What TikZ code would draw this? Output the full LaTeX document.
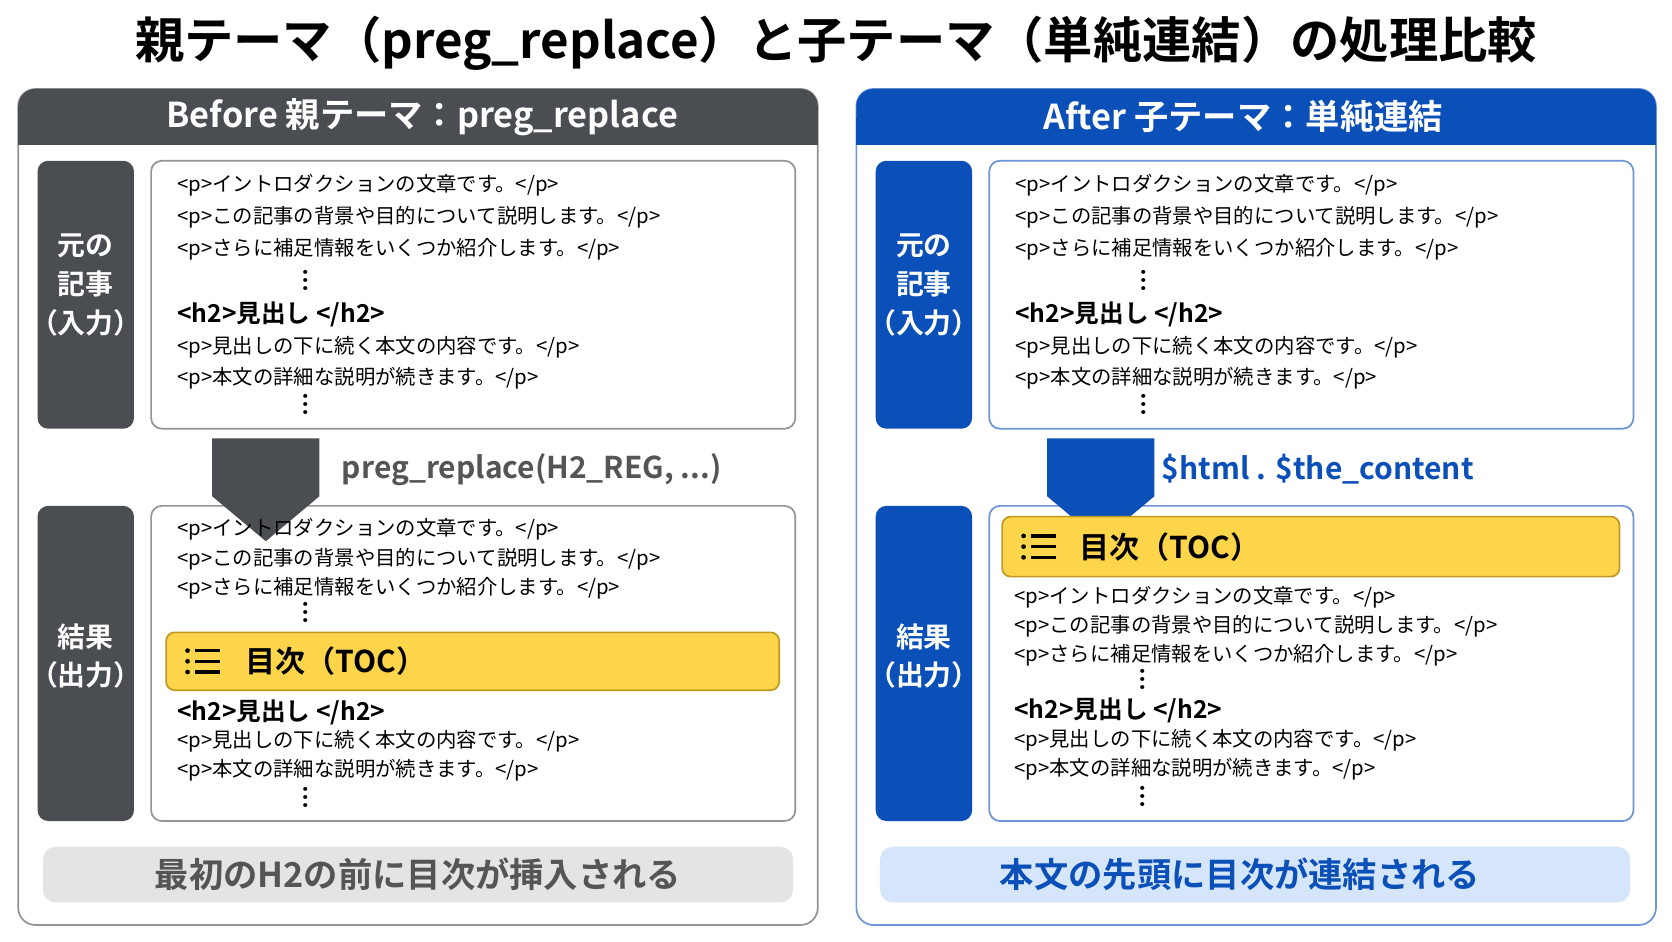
\documentclass[tikz,border=0pt]{standalone}
\usepackage{fontspec}
\setmainfont{Noto Sans CJK JP}[BoldFont={Noto Sans CJK JP Bold}]
\usetikzlibrary{shapes.arrows}
\definecolor{dg}{HTML}{4A4D52}
\definecolor{bl}{HTML}{0B4FB8}
\definecolor{yl}{HTML}{FCD54A}
\definecolor{ylb}{HTML}{C09A20}
\definecolor{lg}{HTML}{E4E4E4}
\definecolor{lb}{HTML}{D6E6FA}
\definecolor{gt}{HTML}{555555}
\begin{document}
\begin{tikzpicture}[x=0.5pt,y=-0.5pt,
 ln/.style={anchor=west,inner sep=0,font=\fontsize{9.5}{11}\selectfont},
 hh/.style={anchor=west,inner sep=0,font=\fontsize{11.5}{13}\bfseries\selectfont},
 dt/.style={inner sep=0,font=\fontsize{10}{10}\bfseries\selectfont},
 lab/.style={align=center,text=white,font=\fontsize{13}{18}\bfseries\selectfont},
 box/.style={draw=gray!70,line width=0.8pt,rounded corners=5pt,fill=white},
 toc/.style={draw=ylb,line width=0.8pt,rounded corners=4pt,fill=yl}]
\useasboundingbox (0,0) rectangle (1560,878);
\fill[white] (0,0) rectangle (1560,878);
\node[font=\fontsize{23}{26}\bfseries\selectfont] (title) at (780,40) {親テーマ（preg\_replace）と子テーマ（単純連結）の処理比較};
\newcommand{\vd}[2]{\node[dt] at (#1,#2) {\rotatebox{90}{…}};}
\newcommand{\tocicon}[2]{%
 \foreach \dy in {-10,0,10}{\fill (#1,#2+\dy) circle (2.2);
 \fill (#1+7,#2+\dy-1.6) rectangle (#1+30,#2+\dy+1.6);}}
% panels
\foreach \ox/\cl in {0/dg,782/bl}{
 \draw[\cl!60,line width=0.8pt,rounded corners=8pt] (17+\ox,83) rectangle (763+\ox,863);
 \fill[\cl,rounded corners=8pt] (17+\ox,83) rectangle (763+\ox,135);
 \fill[\cl] (17+\ox,110) rectangle (763+\ox,135);
 \fill[\cl,rounded corners=5pt] (35+\ox,150) rectangle (125+\ox,400);
 \fill[\cl,rounded corners=5pt] (35+\ox,472) rectangle (125+\ox,766);
 \draw[box,draw=\cl!60] (141+\ox,150) rectangle (742+\ox,400);
 \draw[box,draw=\cl!60] (141+\ox,472) rectangle (742+\ox,766);
 \node[lab] at (80+\ox,266) {元の\\記事\\（入力）};
 \node[lab] at (80+\ox,612) {結果\\（出力）};
 \node[ln] at (165+\ox,173) {<p>イントロダクションの文章です。</p>};
 \node[ln] at (165+\ox,203) {<p>この記事の背景や目的について説明します。</p>};
 \node[ln] at (165+\ox,233) {<p>さらに補足情報をいくつか紹介します。</p>};
 \vd{285+\ox}{262}
 \node[hh] at (165+\ox,293) {<h2>見出し </h2>};
 \node[ln] at (165+\ox,324) {<p>見出しの下に続く本文の内容です。</p>};
 \node[ln] at (165+\ox,353) {<p>本文の詳細な説明が続きます。</p>};
 \vd{285+\ox}{378}
}
\node[text=white,font=\fontsize{16}{18}\bfseries\selectfont] (hl) at (394,109) {Before 親テーマ：preg\_replace};
\node[text=white,font=\fontsize{16}{18}\bfseries\selectfont] (hr) at (1160,109) {After 子テーマ：単純連結};
% left arrow
\node[single arrow,fill=dg,rotate=-90,minimum height=48,minimum width=50,single arrow head extend=0pt,inner sep=6pt,single arrow tip angle=100] (al) at (248,436) {};
\node[anchor=west,text=gt,font=\fontsize{14}{16}\bfseries\selectfont] (tl) at (312,438) {preg\_replace(H2\_REG, ...)};
\node[single arrow,fill=bl,rotate=-90,minimum height=48,minimum width=50,single arrow head extend=0pt,inner sep=6pt,single arrow tip angle=100] (ar) at (1027,436) {};
\node[anchor=west,text=bl,font=\fontsize{14}{16}\bfseries\selectfont] (tr) at (1077,438) {\$html . \$the\_content};
% left result
\node[ln] at (165,494) {<p>イントロダクションの文章です。</p>};
\node[ln] at (165,522) {<p>この記事の背景や目的について説明します。</p>};
\node[ln] at (165,549) {<p>さらに補足情報をいくつか紹介します。</p>};
\vd{285}{572}
\draw[toc] (155,590) rectangle (727,644);
\tocicon{175}{617}
\node[anchor=west,font=\fontsize{14}{16}\bfseries\selectfont] (tocl) at (222,617) {目次（TOC）};
\node[hh] at (165,665) {<h2>見出し </h2>};
\node[ln] at (165,692) {<p>見出しの下に続く本文の内容です。</p>};
\node[ln] at (165,719) {<p>本文の詳細な説明が続きます。</p>};
\vd{285}{744}
% right result
\draw[toc] (935,482) rectangle (1511,538);
\tocicon{955}{510}
\node[anchor=west,font=\fontsize{14}{16}\bfseries\selectfont] (tocr) at (1000,510) {目次（TOC）};
\node[ln] at (946,557) {<p>イントロダクションの文章です。</p>};
\node[ln] at (946,584) {<p>この記事の背景や目的について説明します。</p>};
\node[ln] at (946,611) {<p>さらに補足情報をいくつか紹介します。</p>};
\vd{1066}{634}
\node[hh] at (946,663) {<h2>見出し </h2>};
\node[ln] at (946,691) {<p>見出しの下に続く本文の内容です。</p>};
\node[ln] at (946,718) {<p>本文の詳細な説明が続きます。</p>};
\vd{1066}{743}
% bottom bars
\fill[lg,rounded corners=6pt] (40,790) rectangle (740,842);
\node[text=gt,font=\fontsize{16}{18}\bfseries\selectfont] (bl1) at (390,816) {最初のH2の前に目次が挿入される};
\fill[lb,rounded corners=6pt] (821,790) rectangle (1521,842);
\node[text=bl,font=\fontsize{16}{18}\bfseries\selectfont] (bl2) at (1157,816) {本文の先頭に目次が連結される};
\end{tikzpicture}
\end{document}
